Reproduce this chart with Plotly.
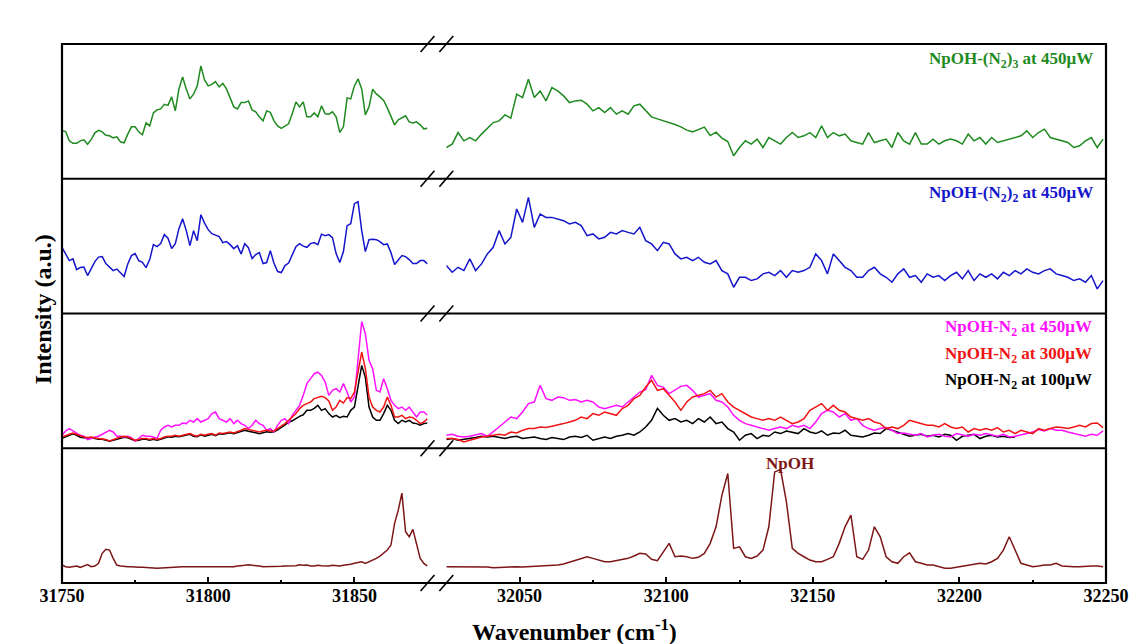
import plotly.graph_objects as go
from plotly.subplots import make_subplots

# ---------------- data (wavenumber grids, cm^-1) ----------------
LEFT_WN = [
    31750.0, 31751.25, 31752.5, 31753.75, 31755.0, 31756.25, 31757.5, 31758.75,
    31760.0, 31761.25, 31762.5, 31763.75, 31765.0, 31766.25, 31767.5, 31768.75,
    31770.0, 31771.25, 31772.5, 31773.75, 31775.0, 31776.25, 31777.5, 31778.75,
    31780.0, 31781.25, 31782.5, 31783.75, 31785.0, 31786.25, 31787.5, 31788.75,
    31790.0, 31791.25, 31792.5, 31793.75, 31795.0, 31796.25, 31797.5, 31798.75,
    31800.0, 31801.25, 31802.5, 31803.75, 31805.0, 31806.25, 31807.5, 31808.75,
    31810.0, 31811.25, 31812.5, 31813.75, 31815.0, 31816.25, 31817.5, 31818.75,
    31820.0, 31821.25, 31822.5, 31823.75, 31825.0, 31826.25, 31827.5, 31828.75,
    31830.0, 31831.25, 31832.5, 31833.75, 31835.0, 31836.25, 31837.5, 31838.75,
    31840.0, 31841.25, 31842.5, 31843.75, 31845.0, 31846.25, 31847.5, 31848.75,
    31850.0, 31851.25, 31852.5, 31853.75, 31855.0, 31856.25, 31857.5, 31858.75,
    31860.0, 31861.25, 31862.5, 31863.75, 31865.0, 31866.25, 31867.5, 31868.75,
    31870.0, 31871.25, 31872.5, 31873.75, 31875.0,
]
RIGHT_WN = [
    32025, 32027, 32029, 32031, 32033, 32035, 32037, 32039, 32041, 32043,
    32045, 32047, 32049, 32051, 32053, 32055, 32057, 32059, 32061, 32063,
    32065, 32067, 32069, 32071, 32073, 32075, 32077, 32079, 32081, 32083,
    32085, 32087, 32089, 32091, 32093, 32095, 32097, 32099, 32101, 32103,
    32105, 32107, 32109, 32111, 32113, 32115, 32117, 32119, 32121, 32123,
    32125, 32127, 32129, 32131, 32133, 32135, 32137, 32139, 32141, 32143,
    32145, 32147, 32149, 32151, 32153, 32155, 32157, 32159, 32161, 32163,
    32165, 32167, 32169, 32171, 32173, 32175, 32177, 32179, 32181, 32183,
    32185, 32187, 32189, 32191, 32193, 32195, 32197, 32199, 32201, 32203,
    32205, 32207, 32209, 32211, 32213, 32215, 32217, 32219, 32221, 32223,
    32225, 32227, 32229, 32231, 32233, 32235, 32237, 32239, 32241, 32243,
    32245, 32247, 32249,
]
# NpOH-N2 at 100 uW stops near 32219 cm^-1
RIGHT_WN_100 = RIGHT_WN[:98]

# ---------------- intensities (a.u.) ----------------
N2_3_450_L = [
    48.0, 47.3, 38.0, 35.5, 35.5, 38.0, 39.0, 34.5, 39.5, 46.0,
    48.5, 47.0, 43.5, 43.0, 41.0, 42.0, 37.0, 36.0, 44.7, 52.0,
    52.0, 47.0, 44.0, 56.0, 53.0, 66.0, 69.0, 70.0, 74.5, 73.5,
    82.0, 68.0, 90.0, 102.0, 90.0, 80.0, 84.7, 93.0, 113.0, 99.0,
    93.0, 94.5, 97.3, 92.0, 95.5, 90.0, 81.0, 72.0, 70.0, 76.3,
    76.3, 78.0, 69.0, 67.0, 62.0, 58.0, 68.0, 66.5, 58.0, 53.0,
    50.5, 53.0, 55.0, 65.0, 77.0, 72.0, 77.0, 62.0, 62.0, 66.0,
    62.0, 73.0, 65.0, 64.7, 67.0, 62.0, 46.5, 52.0, 81.0, 80.0,
    93.0, 100.0, 90.0, 64.0, 72.0, 89.7, 85.0, 82.0, 78.5, 71.0,
    62.0, 54.0, 59.0, 61.0, 63.0, 57.0, 56.0, 57.0, 54.0, 50.0,
    50.5,
]
N2_3_450_R = [
    31.3, 34.7, 46.3, 38.0, 41.3, 38.0, 44.7, 50.7, 56.3, 58.0,
    64.0, 60.7, 84.7, 81.3, 99.7, 81.3, 88.0, 78.0, 91.3, 88.0,
    83.0, 76.3, 78.0, 78.7, 74.7, 68.0, 71.3, 66.3, 71.3, 64.7,
    68.0, 64.7, 73.0, 74.7, 68.0, 62.0, 60.0, 58.3, 56.7, 54.3,
    52.0, 48.7, 47.0, 49.3, 51.7, 43.3, 46.7, 40.7, 37.3, 23.0,
    31.3, 38.0, 34.7, 39.7, 31.3, 41.3, 38.0, 34.7, 41.3, 46.3,
    41.3, 43.0, 46.3, 41.3, 53.0, 41.3, 46.3, 43.0, 44.7, 38.0,
    36.3, 34.7, 46.3, 36.3, 38.0, 39.7, 31.3, 46.3, 38.0, 34.7,
    46.3, 34.7, 34.7, 39.7, 34.7, 38.0, 39.7, 38.0, 34.7, 44.7,
    38.0, 41.3, 34.7, 41.3, 36.3, 38.0, 39.7, 41.3, 43.0, 48.0,
    41.3, 46.3, 49.7, 41.3, 39.7, 38.0, 36.3, 31.3, 33.0, 38.0,
    41.3, 31.3, 39.7,
]
N2_2_450_L = [
    66.3, 59.5, 53.0, 54.7, 44.0, 46.0, 46.5, 38.0, 45.5, 52.0,
    56.5, 57.0, 50.0, 46.0, 43.0, 44.5, 41.0, 37.0, 49.7, 58.0,
    60.0, 53.0, 51.3, 46.0, 54.0, 69.0, 67.0, 70.0, 79.0, 75.5,
    65.0, 70.0, 85.0, 95.0, 83.0, 68.0, 83.0, 73.0, 99.0, 90.5,
    84.0, 80.0, 78.5, 77.0, 71.0, 72.0, 69.0, 65.0, 68.0, 59.7,
    70.0, 66.0, 55.0, 59.0, 61.0, 50.0, 51.0, 63.0, 50.3, 42.0,
    41.0, 48.0, 50.5, 59.7, 67.0, 70.0, 67.5, 66.3, 70.0, 71.0,
    69.0, 79.5, 78.0, 79.0, 76.0, 60.0, 51.0, 62.0, 88.0, 90.0,
    110.0, 112.0, 83.0, 62.0, 74.0, 74.5, 74.0, 72.0, 69.0, 69.7,
    61.0, 49.0, 53.0, 58.0, 57.0, 54.0, 50.0, 50.0, 53.0, 53.0,
    49.7,
]
N2_2_450_R = [
    48.0, 41.3, 46.3, 43.0, 54.7, 43.0, 49.7, 59.7, 66.3, 83.0,
    69.7, 76.3, 104.7, 91.3, 116.3, 86.3, 99.7, 96.3, 96.3, 94.7,
    93.0, 89.7, 91.3, 88.0, 78.0, 79.7, 74.7, 76.3, 81.3, 79.7,
    83.0, 81.3, 79.7, 86.3, 73.0, 69.7, 63.0, 71.3, 69.7, 59.7,
    54.7, 56.3, 53.0, 56.3, 51.3, 49.7, 53.0, 43.0, 39.7, 26.3,
    36.3, 36.3, 33.0, 34.7, 39.7, 41.3, 38.0, 43.0, 36.3, 43.0,
    41.3, 43.0, 46.3, 59.7, 53.0, 39.7, 59.7, 53.0, 46.3, 43.0,
    36.3, 36.3, 43.0, 46.3, 39.7, 36.3, 31.3, 39.7, 44.7, 36.3,
    38.0, 31.3, 39.7, 36.3, 38.0, 33.0, 38.0, 41.3, 34.7, 43.0,
    33.0, 39.7, 36.3, 39.7, 34.7, 41.3, 38.0, 43.0, 39.7, 44.7,
    41.3, 39.7, 43.0, 44.7, 39.7, 38.0, 36.3, 33.0, 34.7, 31.3,
    38.0, 24.7, 33.0,
]
N2_450_L = [
    13.0, 17.3, 19.7, 17.3, 14.7, 13.0, 12.0, 8.7, 9.7, 11.3,
    12.0, 14.0, 16.3, 18.0, 16.3, 12.0, 12.0, 11.3, 12.0, 10.7,
    7.3, 9.7, 13.0, 12.0, 12.0, 11.3, 9.7, 18.0, 21.3, 23.0,
    21.3, 23.0, 23.0, 25.3, 24.7, 28.0, 26.3, 29.7, 26.3, 28.0,
    29.7, 34.7, 36.3, 29.7, 28.0, 26.3, 29.7, 24.7, 28.0, 24.7,
    23.0, 19.7, 23.0, 28.0, 24.7, 23.0, 18.0, 19.7, 16.3, 23.0,
    28.0, 29.7, 24.7, 33.0, 38.0, 43.0, 53.0, 64.7, 69.7, 74.7,
    76.3, 73.0, 66.3, 53.0, 58.0, 59.7, 56.3, 64.7, 56.3, 46.3,
    51.3, 88.0, 127.0, 114.7, 88.0, 79.7, 58.0, 56.3, 69.7, 59.7,
    48.0, 43.0, 39.7, 41.3, 38.0, 41.3, 36.3, 31.3, 36.3, 36.3,
    33.0,
]
N2_450_R = [
    13.0, 14.0, 12.0, 11.3, 12.0, 13.0, 14.7, 12.0, 16.3, 21.3,
    26.3, 31.3, 29.7, 36.3, 44.7, 46.3, 63.0, 49.7, 48.0, 51.3,
    50.7, 48.0, 48.7, 46.3, 48.0, 46.3, 41.3, 39.7, 41.3, 43.0,
    41.3, 46.3, 51.3, 56.3, 58.7, 73.0, 63.0, 61.3, 54.7, 58.0,
    62.0, 63.0, 58.0, 51.3, 53.0, 54.7, 48.0, 46.3, 41.3, 33.0,
    28.0, 24.7, 23.0, 21.3, 19.7, 18.0, 19.7, 21.3, 19.7, 23.0,
    21.3, 23.0, 19.7, 26.3, 34.7, 38.0, 36.3, 31.3, 34.7, 28.0,
    29.7, 23.0, 19.7, 18.0, 19.7, 20.7, 18.0, 14.7, 15.3, 14.0,
    13.0, 14.7, 11.3, 13.0, 14.0, 12.0, 11.3, 14.7, 13.0, 12.0,
    14.0, 13.0, 14.7, 13.0, 12.0, 14.0, 11.3, 12.0, 13.0, 14.7,
    16.3, 18.7, 17.3, 19.7, 18.0, 18.0, 16.3, 14.7, 13.0, 12.0,
    14.0, 13.0, 17.3,
]
N2_300_L = [
    11.3, 13.0, 14.0, 15.3, 14.0, 12.0, 11.3, 10.7, 11.3, 10.3,
    9.7, 9.7, 8.7, 7.3, 8.7, 9.7, 11.3, 12.0, 11.3, 9.7,
    8.0, 8.7, 9.7, 9.7, 8.7, 9.7, 8.7, 9.7, 11.3, 12.0,
    12.0, 13.0, 12.0, 13.0, 14.0, 14.7, 13.0, 12.0, 14.0, 13.0,
    14.0, 14.7, 13.0, 15.3, 14.7, 15.3, 16.3, 15.3, 16.3, 18.0,
    19.7, 18.7, 18.0, 17.3, 16.3, 17.3, 18.0, 17.3, 17.3, 19.7,
    22.0, 24.7, 28.0, 31.3, 34.7, 39.7, 43.0, 44.7, 46.3, 49.7,
    50.7, 52.0, 50.7, 47.3, 38.0, 41.3, 48.0, 45.3, 50.7, 49.7,
    56.3, 74.7, 96.3, 79.7, 51.3, 41.3, 38.0, 36.3, 41.3, 51.3,
    43.0, 31.3, 31.3, 33.0, 29.7, 31.3, 30.7, 28.0, 24.7, 26.3,
    29.7,
]
N2_300_R = [
    9.7, 9.7, 8.7, 6.3, 8.0, 9.7, 11.3, 12.0, 13.0, 14.0,
    13.0, 16.3, 15.3, 18.0, 19.7, 19.7, 21.3, 20.7, 22.0, 23.0,
    24.7, 26.3, 28.0, 31.3, 29.7, 34.7, 33.0, 36.3, 34.7, 33.0,
    39.7, 43.0, 49.7, 53.0, 61.3, 68.0, 58.0, 59.7, 53.0, 46.3,
    38.0, 46.3, 51.3, 53.0, 54.7, 58.0, 51.3, 54.7, 46.3, 41.3,
    38.0, 34.7, 31.3, 29.7, 28.0, 29.7, 28.0, 31.3, 28.0, 24.7,
    26.3, 29.7, 38.0, 41.3, 44.7, 38.0, 43.0, 38.0, 36.3, 31.3,
    29.7, 28.0, 29.7, 26.3, 24.7, 19.7, 21.3, 19.7, 23.0, 28.0,
    26.3, 24.7, 23.0, 23.0, 21.3, 24.7, 21.3, 19.7, 21.3, 16.3,
    19.7, 18.0, 19.7, 18.0, 20.7, 16.3, 18.0, 14.7, 18.0, 16.3,
    14.7, 19.7, 18.0, 19.7, 21.3, 20.7, 19.7, 21.3, 23.0, 21.3,
    24.7, 25.3, 20.7,
]
N2_100_L = [
    10.0, 11.5, 12.5, 14.5, 13.0, 11.0, 10.5, 10.0, 10.5, 9.5,
    9.0, 9.0, 8.0, 7.0, 8.0, 9.0, 10.5, 11.0, 10.5, 9.0,
    7.5, 8.0, 9.0, 9.0, 8.0, 9.0, 8.0, 9.0, 10.5, 11.5,
    11.0, 12.0, 11.5, 12.5, 13.0, 14.0, 12.0, 11.5, 13.5, 12.0,
    13.0, 14.0, 12.5, 14.5, 14.0, 14.5, 15.5, 14.5, 15.5, 17.0,
    18.0, 17.0, 16.5, 15.5, 14.5, 15.5, 16.5, 16.0, 16.5, 18.5,
    21.0, 23.0, 26.0, 27.5, 30.0, 32.0, 33.5, 38.0, 38.0, 40.0,
    43.0, 38.0, 39.7, 34.7, 31.3, 33.0, 30.7, 32.0, 31.3, 38.0,
    41.3, 61.3, 83.0, 71.0, 41.3, 31.3, 28.0, 28.0, 34.7, 43.0,
    38.0, 28.0, 24.7, 28.0, 26.3, 28.0, 25.3, 24.7, 23.0, 24.7,
    25.3,
]
N2_100_R = [
    8.7, 9.7, 8.0, 8.7, 9.7, 10.7, 12.0, 11.3, 12.0, 10.7,
    9.7, 11.3, 12.0, 9.7, 10.3, 11.3, 9.7, 8.7, 10.7, 9.7,
    8.7, 11.3, 12.0, 10.7, 13.0, 8.0, 9.7, 11.3, 9.7, 12.0,
    13.0, 14.7, 13.0, 16.3, 21.3, 28.0, 40.0, 33.0, 28.0, 29.7,
    26.3, 28.0, 24.7, 29.7, 26.3, 31.3, 24.7, 26.3, 19.7, 16.3,
    8.0, 13.0, 14.7, 9.7, 13.0, 12.0, 16.3, 14.7, 17.3, 16.3,
    14.7, 19.7, 16.3, 14.7, 17.3, 13.0, 15.3, 14.7, 18.0, 13.0,
    12.0, 11.3, 13.0, 15.3, 14.7, 19.7, 18.0, 16.3, 14.0, 12.0,
    13.0, 14.0, 12.0, 13.0, 11.3, 14.0, 13.0, 8.0, 12.0, 13.0,
    14.0, 9.7, 12.0, 13.0, 11.3, 12.0, 10.7, 11.3,
]
NPOH_L = [
    18.0, 16.3, 15.7, 16.3, 17.0, 15.7, 17.0, 18.5, 16.3, 17.0,
    19.7, 29.7, 33.7, 33.0, 24.7, 18.0, 17.0, 16.3, 16.3, 16.3,
    15.7, 15.7, 15.7, 15.7, 15.3, 15.0, 14.7, 15.0, 15.0, 15.3,
    15.7, 15.7, 16.0, 16.3, 16.3, 16.3, 16.3, 16.3, 16.3, 16.0,
    16.0, 15.7, 15.7, 15.7, 15.7, 16.0, 16.3, 16.3, 17.0, 17.0,
    17.7, 18.3, 18.0, 17.7, 17.0, 16.3, 16.3, 16.3, 16.0, 16.3,
    16.7, 17.0, 17.0, 17.0, 17.3, 18.3, 17.7, 18.0, 17.0, 17.0,
    17.7, 17.3, 17.0, 17.0, 17.7, 17.0, 17.0, 17.7, 18.0, 18.7,
    19.7, 20.3, 21.3, 19.7, 21.3, 23.0, 24.7, 27.0, 29.7, 33.0,
    38.0, 59.7, 73.0, 90.0, 51.3, 46.3, 53.7, 39.7, 24.7, 19.7,
    17.0,
]
NPOH_R = [
    16.3, 16.3, 15.7, 15.7, 16.0, 15.7, 15.7, 16.0, 15.3, 15.7,
    15.7, 16.3, 16.3, 16.0, 16.3, 16.3, 17.0, 17.3, 17.0, 18.0,
    19.0, 20.7, 23.0, 24.7, 26.3, 24.7, 23.0, 21.3, 21.3, 22.3,
    23.0, 24.7, 27.0, 29.7, 29.0, 23.7, 22.3, 31.3, 39.7, 26.3,
    27.0, 26.3, 24.7, 25.7, 29.7, 39.7, 56.3, 88.0, 109.7, 34.7,
    36.3, 26.3, 24.7, 27.0, 33.0, 56.3, 111.3, 113.7, 81.3, 34.7,
    29.7, 26.3, 23.0, 21.3, 21.3, 23.7, 26.3, 39.7, 56.3, 68.0,
    26.3, 23.7, 33.0, 56.3, 46.3, 26.3, 21.3, 19.7, 26.3, 30.3,
    21.3, 19.7, 18.0, 18.0, 16.3, 14.7, 14.7, 15.7, 16.3, 17.0,
    18.0, 19.7, 19.0, 21.3, 24.7, 33.0, 46.3, 33.0, 19.7, 18.0,
    16.3, 17.0, 18.0, 18.0, 19.7, 17.0, 16.3, 16.3, 16.3, 17.0,
    17.0, 17.0, 16.3,
]

# ---------------- ticks ----------------
LEFT_RANGE = [31750, 31875]
RIGHT_RANGE = [32025, 32250]
LEFT_MAJOR = [31750, 31800, 31850]
LEFT_MINOR = [31775, 31825]
RIGHT_MAJOR = [32050, 32100, 32150, 32200, 32250]
RIGHT_MINOR = [32075, 32125, 32175, 32225]
LEFT_LABELS = ["31750", "31800", "31850"]
RIGHT_LABELS = ["32050", "32100", "32150", "32200", "32250"]

GREEN = "#1f8a1f"
BLUE = "#1515cc"
MAGENTA = "#ff10ff"
RED = "#f01414"
BLACK = "#000000"
MAROON = "#7d1616"
FONT = "Liberation Serif"

# ---------------- figure ----------------
W, H = 1141, 644
ML, MR, MT, MB = 62, 25, 44, 61
PW, PH = W - ML - MR, H - MT - MB   # 1054 x 539

fig = make_subplots(rows=4, cols=2, column_widths=[369, 666],
                    horizontal_spacing=19 / PW, vertical_spacing=0)

def add(row, xl, yl, xr, yr, color):
    fig.add_trace(go.Scatter(x=xl, y=yl, mode="lines", line=dict(color=color, width=1.5),
                             hoverinfo="skip"), row=row, col=1)
    fig.add_trace(go.Scatter(x=xr, y=yr, mode="lines", line=dict(color=color, width=1.5),
                             hoverinfo="skip"), row=row, col=2)

add(1, LEFT_WN, N2_3_450_L, RIGHT_WN, N2_3_450_R, GREEN)
add(2, LEFT_WN, N2_2_450_L, RIGHT_WN, N2_2_450_R, BLUE)
add(3, LEFT_WN, N2_100_L, RIGHT_WN_100, N2_100_R, BLACK)
add(3, LEFT_WN, N2_450_L, RIGHT_WN, N2_450_R, MAGENTA)
add(3, LEFT_WN, N2_300_L, RIGHT_WN, N2_300_R, RED)
add(4, LEFT_WN, NPOH_L, RIGHT_WN, NPOH_R, MAROON)

for r in range(1, 5):
    for c in (1, 2):
        bottom = r == 4
        xkw = dict(range=LEFT_RANGE if c == 1 else RIGHT_RANGE, showgrid=False,
                   zeroline=False, showline=False)
        if bottom:
            xkw.update(tickmode="array",
                       tickvals=LEFT_MAJOR if c == 1 else RIGHT_MAJOR,
                       ticktext=LEFT_LABELS if c == 1 else RIGHT_LABELS,
                       ticks="inside", ticklen=6, tickwidth=1.6, tickcolor="black",
                       showticklabels=True, ticklabeloverflow="allow",
                       tickfont=dict(family=FONT, size=18, color="black", weight="bold"),
                       minor=dict(tickmode="array", tickvals=LEFT_MINOR if c == 1 else RIGHT_MINOR,
                                  ticks="inside", ticklen=3, tickwidth=1.6, tickcolor="black"))
        else:
            xkw.update(ticks="", showticklabels=False)
        fig.update_xaxes(row=r, col=c, **xkw)
        fig.update_yaxes(row=r, col=c, range=[0, 135], showgrid=False, zeroline=False,
                         showline=False, ticks="", showticklabels=False)

# frame, dividers and axis-break marks
xl_end = fig.layout.xaxis.domain[1]
xr_start = fig.layout.xaxis2.domain[0]
lw = 2.2
shapes = [dict(type="rect", xref="paper", yref="paper", x0=0, x1=1, y0=0, y1=1,
               line=dict(color="black", width=lw), fillcolor="rgba(0,0,0,0)")]
ys = [0, 0.25, 0.5, 0.75, 1.0]
for yv in ys[1:4]:
    shapes.append(dict(type="line", xref="paper", yref="paper", x0=0, x1=1, y0=yv, y1=yv,
                       line=dict(color="black", width=lw)))
dx, dy = 7 / PW, 8 / PH
for yv in ys:
    for xc in (xl_end, xr_start):
        shapes.append(dict(type="line", xref="paper", yref="paper",
                           x0=xc - dx, x1=xc + dx, y0=yv - dy, y1=yv + dy,
                           line=dict(color="black", width=1.6)))

def px_x(x):
    return (x - ML) / PW

def px_y(y):
    return (H - MB - y) / PH

bold = dict(family=FONT, weight="bold")
ann = [
    dict(text="NpOH-(N<sub>2</sub>)<sub>3</sub> at 450μW", x=px_x(1105), y=px_y(60),
         xanchor="right", yanchor="middle", font=dict(size=17, color=GREEN, **bold)),
    dict(text="NpOH-(N<sub>2</sub>)<sub>2</sub> at 450μW", x=px_x(1105), y=px_y(194),
         xanchor="right", yanchor="middle", font=dict(size=17, color=BLUE, **bold)),
    dict(text="NpOH-N<sub>2</sub> at 450μW", x=px_x(1104), y=px_y(328),
         xanchor="right", yanchor="middle", font=dict(size=17, color=MAGENTA, **bold)),
    dict(text="NpOH-N<sub>2</sub> at 300μW", x=px_x(1104), y=px_y(355),
         xanchor="right", yanchor="middle", font=dict(size=17, color=RED, **bold)),
    dict(text="NpOH-N<sub>2</sub> at 100μW", x=px_x(1104), y=px_y(381),
         xanchor="right", yanchor="middle", font=dict(size=17, color=BLACK, **bold)),
    dict(text="NpOH", x=px_x(797), y=px_y(463), xanchor="center", yanchor="middle",
         font=dict(size=17, color=MAROON, **bold)),
    dict(text="Intensity (a.u.)", x=px_x(43), y=px_y(309), textangle=-90,
         xanchor="center", yanchor="middle", font=dict(size=24, color="black", **bold)),
    dict(text="Wavenumber (cm<sup>-1</sup>)", x=px_x(579), y=px_y(630),
         xanchor="center", yanchor="middle", font=dict(size=24, color="black", **bold)),
]
for a in ann:
    a.update(xref="paper", yref="paper", showarrow=False)

fig.update_layout(width=W, height=H, margin=dict(l=ML, r=MR, t=MT, b=MB),
                  showlegend=False, plot_bgcolor="white", paper_bgcolor="white",
                  shapes=shapes, annotations=ann)

# remove the page's default body margin so the figure fills the window exactly
fig.write_html("out.html", config={"displayModeBar": False},
               post_script="document.body.style.margin='0';document.body.style.overflow='hidden';")
